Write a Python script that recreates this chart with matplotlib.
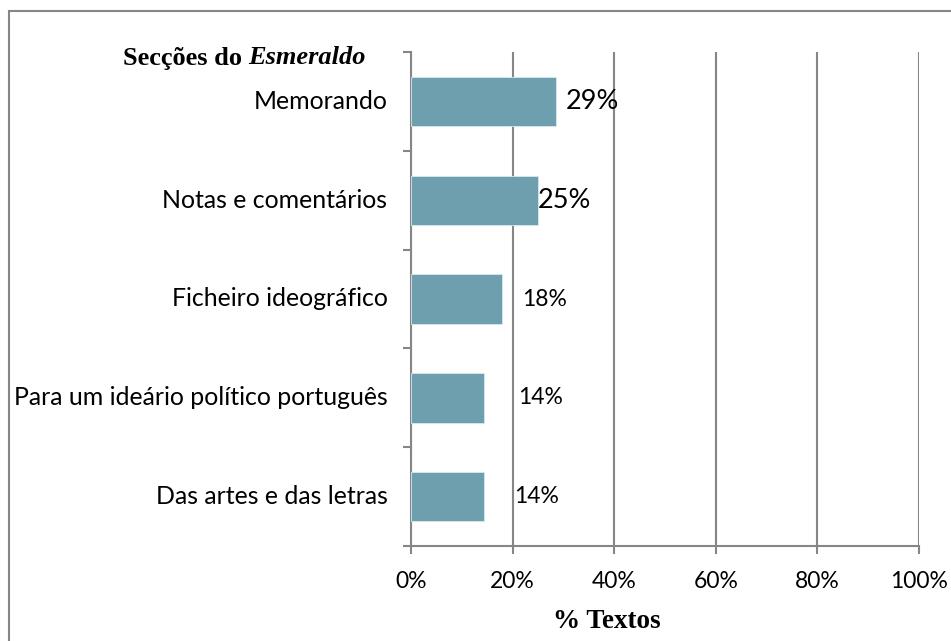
import matplotlib
matplotlib.use("Agg")
import matplotlib.pyplot as plt
from matplotlib.patches import Rectangle

categories = ["Memorando", "Notas e comentários", "Ficheiro ideográfico",
              "Para um ideário político português", "Das artes e das letras"]
values = [28.6, 25.0, 17.9, 14.3, 14.3]
value_labels = ["29%", "25%", "18%", "14%", "14%"]
label_offsets = [9, 0, 20, 34, 30]      # px gap between bar end and label
label_sizes = [19.5, 19.5, 16.5, 16.5, 16.5]
xticks = [0, 20, 40, 60, 80, 100]
xtick_labels = ["0%", "20%", "40%", "60%", "80%", "100%"]

W, H = 951, 641
fig = plt.figure(figsize=(W / 100, H / 100), dpi=100)
fig.patch.set_facecolor("white")

# outer border (left and top visible)
fig.add_artist(Rectangle((8.5 / W, -0.1), 1.2, (H - 10.5) / H + 0.1,
                         transform=fig.transFigure, fill=False,
                         edgecolor="#868686", linewidth=1.5))

left, right, top, bottom = 411, 919, 52, 546
ax = fig.add_axes([left / W, 1 - bottom / H, (right - left) / W, (bottom - top) / H])

gray = "#868686"
n = len(categories)
ypos = list(range(n))
ax.barh(ypos, values, height=0.5, color="#6e9fae", edgecolor="#dbe8ec",
        linewidth=0.6, zorder=3)
ax.set_ylim(n - 0.5, -0.5)
ax.set_xlim(0, 100)

ax.set_xticks(xticks)
ax.set_xticklabels(xtick_labels, fontfamily="Lato", fontsize=16.5)
ax.set_yticks([i - 0.5 for i in range(n + 1)])
ax.set_yticklabels([])
for i, c in enumerate(categories):
    ax.annotate(c, xy=(0, i), xycoords=("axes fraction", "data"),
                xytext=(-17, 0), textcoords="offset points", ha="right",
                va="center", fontfamily="Lato", fontsize=17.9)

ax.grid(axis="x", color=gray, linewidth=1.5, zorder=0)
for s in ["top", "right"]:
    ax.spines[s].set_visible(False)
for s in ["left", "bottom"]:
    ax.spines[s].set_color(gray)
    ax.spines[s].set_linewidth(1.5)
ax.tick_params(axis="both", direction="out", length=6, width=1.5, color=gray)
ax.tick_params(axis="x", pad=12)

for i, (v, lab, off, sz) in enumerate(zip(values, value_labels, label_offsets, label_sizes)):
    ax.annotate(lab, xy=(v, i), xytext=(off * 0.72, 0), textcoords="offset points",
                ha="left", va="center", fontfamily="Lato", fontsize=sz)

t = fig.text(123 / W, 1 - 58 / H, "Secções do ", fontfamily="Liberation Serif",
             fontweight="bold", fontsize=19, ha="left", va="center")
fig.canvas.draw()
bb = t.get_window_extent()
fig.text(bb.x1 / W, 1 - 58 / H, "Esmeraldo", fontfamily="Liberation Serif",
         fontweight="bold", fontstyle="italic", fontsize=19, ha="left", va="center")

fig.text(607 / W, 1 - 621 / H, "% Textos", fontfamily="Liberation Serif",
         fontweight="bold", fontsize=19.5, ha="center", va="center")

fig.savefig("out.png", dpi=100)
